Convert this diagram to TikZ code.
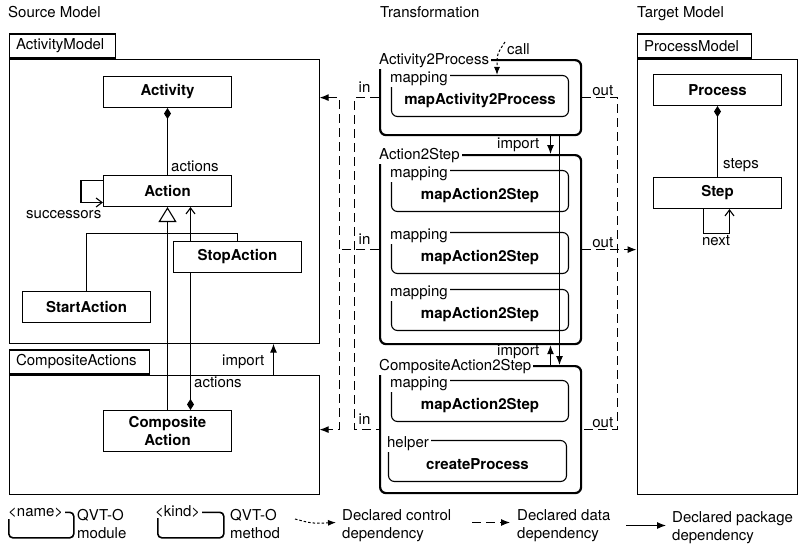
\documentclass[tikz,border=0pt]{standalone}
\usepackage{fontspec}
\setmainfont{TeX Gyre Heros}
\usetikzlibrary{arrows.meta,calc}
\newcommand{\figfont}{\fontsize{15}{18}\selectfont}
\tikzset{
    diam/.tip={Diamond[length=11pt,width=7pt]},
    barb/.tip={Straight Barb[length=6pt,width=9pt]},
    head/.tip={Latex[length=9pt,width=7pt]},
    lbl/.style={anchor=base west, inner sep=0pt},
    cls/.style={draw, fill=white, line width=1.1pt, font=\figfont\bfseries, minimum width=128pt, minimum height=31pt, inner sep=0pt, align=center},
    pkg/.style={draw, line width=1.1pt, anchor=north west, inner sep=0pt},
    pkgtab/.style={draw, line width=1.1pt, anchor=south west, inner xsep=7pt, inner ysep=0pt, minimum height=24pt, align=left},
    module/.style={draw, line width=2.2pt, rounded corners=6pt, anchor=north west, inner sep=0pt, minimum width=201pt},
    method/.style={draw, line width=1.1pt, rounded corners=6pt, inner sep=0pt, minimum width=177pt, minimum height=41pt},
    mname/.style={anchor=base, inner sep=0pt, font=\figfont\bfseries},
    tag/.style={fill=white, inner xsep=2pt, inner ysep=1pt, anchor=base west},
    pkgdep/.style={line width=1.1pt, -head},
    datadep/.style={line width=1.1pt, dash pattern=on 9pt off 5pt},
    ctrldep/.style={line width=1pt, dash pattern=on 2.5pt off 2pt, -{Latex[length=8pt,width=6pt]}},
    assoc/.style={line width=1.1pt, -barb},
    comp/.style={line width=1.1pt, diam-}
}
\begin{document}
\begin{tikzpicture}[x=1pt,y=-1pt,font=\figfont]
        \useasboundingbox (0,0) rectangle (800,544);
        %Titles
            \node[lbl] (srctitle) at (8,17) {Source Model};
            \node[lbl] (trftitle) at (380,17) {Transformation};
            \node[lbl] (tgttitle) at (637,17) {Target Model};
        %Source model
        \node[pkg, minimum width=310pt, minimum height=284pt] (actmodel) at (8.5,58.5) {};
        \node[pkgtab, text width=92pt] (actmodeltab) at (actmodel.north west) {ActivityModel};
        \node[pkg, minimum width=310pt, minimum height=119pt] (compactions) at (8.5,374.5) {};
        \node[pkgtab, text width=126pt] (compactionstab) at (compactions.north west) {CompositeActions};
        \node[cls] (activity) at (167.5,92) {Activity};
        \node[cls] (action) at (167.5,191) {Action};
        \node[cls] (startaction) at (86.5,307) {StartAction};
        \node[cls, minimum height=41pt] (compaction) at (167.5,431) {Composite\\Action};
        \draw[comp] (activity.south) -- (action.north);
        \node[lbl] (actionslbl) at (171,171.5) {actions};
        \draw[assoc] ($(action.west)+(0,-10.5)$) -- ++(-22,0) -- ++(0,22) -- ($(action.west)+(0,11.5)$);
        \node[lbl] (succlbl) at (26,218) {successors};
        \coordinate (genjoin) at ($(action.south)+(0,26)$);
        \draw[line width=1.1pt, -{Triangle[open,length=15pt,width=18pt]}] (compaction.north) -- (action.south);
        \draw[line width=1.1pt, diam-barb] ($(compaction.north)+(23,0)$) -- ($(action.south)+(23,0)$);
        \node[cls] (stopaction) at (237.5,257) {StopAction};
        \draw[line width=1.1pt] (startaction.north) |- (genjoin) -| (stopaction.north);
        \node[lbl] (compactionslbl) at (194,387.5) {actions};
        \coordinate (imps) at (273.5,0);
        \draw[pkgdep] (imps |- compactions.north) -- (imps |- actmodel.south);
        \node[lbl] (impslbl) at (222,365) {import};
        %Target model
        \node[pkg, minimum width=160pt, minimum height=435pt] (procmodel) at (636.5,58.5) {};
        \node[pkgtab, text width=100pt] (procmodeltab) at (procmodel.north west) {ProcessModel};
        \node[cls] (process) at (717.5,90) {Process};
        \node[cls] (step) at (717.5,193) {Step};
        \draw[comp] (process.south) -- (step.north);
        \node[lbl] (stepslbl) at (723,168.5) {steps};
        \draw[assoc] ($(step.south)+(-14,0)$) -- ++(0,24) -- ++(26,0) -- ($(step.south)+(12,0)$);
        \node[anchor=base, inner sep=0pt] (nextlbl) at (716,245) {next};
        %Transformation
        \node[module, minimum height=75pt] (a2p) at (379,59) {};
        \node[module, minimum height=189pt] (a2s) at (379,154) {};
        \node[module, minimum height=127pt] (ca2s) at (379,365) {};
        \node[method] (m1) at (480,96) {};
        \node[method] (m2) at (480,191) {};
        \node[method] (m3) at (480,253) {};
        \node[method] (m4) at (480,310) {};
        \node[method] (m5) at (480,401) {};
        \node[method, minimum width=178pt] (h1) at (477.5,461) {};
        \foreach \m/\k in {a2p/Activity2Process, a2s/Action2Step, ca2s/CompositeAction2Step}
        {\node[tag] (\m-tag) at ($(\m.north west)+(-2,5.3)$) {\k};}
        \foreach \m/\k/\t in {m1/mapping/mapActivity2Process, m2/mapping/mapAction2Step, m3/mapping/mapAction2Step,
        m4/mapping/mapAction2Step, m5/mapping/mapAction2Step, h1/helper/createProcess}
        {\node[tag] (\m-tag) at ($(\m.north west)+(-3,7.5)$) {\k};
         \node[mname] (\m-txt) at ($(\m.north)+(0,30)$) {\t};}
        \coordinate (callsrc) at (505,42);
        \draw[ctrldep] (callsrc) .. controls (497,54) .. ($(m1.north)+(17,0)$);
        \node[lbl] (calllbl) at (507,54) {call};
        %Imports
        \coordinate (impa) at (550.5,0);
        \coordinate (impb) at (559.5,0);
        \draw[pkgdep] (impa |- a2p.south) -- (impa |- a2s.north);
        \draw[pkgdep] (impa |- ca2s.north) -- (impa |- a2s.south);
        \draw[pkgdep] (impb |- a2p.south) -- (impb |- ca2s.north);
        \node[lbl] (impalbl) at (497,148) {import};
        \node[lbl] (impblbl) at (497,355) {import};
        %Data in/out
        \coordinate (inbus) at (354.5,0);
        \coordinate (srcbus) at (339.5,0);
        \coordinate (outbus) at (617.5,0);
        \draw[datadep] (a2p.west) -| (inbus |- ca2s.west) -- (ca2s.west);
        \draw[datadep] (a2s.west) -- (srcbus |- a2s.west);
        \draw[datadep, head-head] (actmodel.east |- a2p.west) -| (srcbus |- ca2s.west) -- (compactions.east |- ca2s.west);
        \draw[datadep] (a2p.east) -| (outbus |- ca2s.east) -- (ca2s.east);
        \draw[datadep, -head] (a2s.east) -- (procmodel.west |- a2s.east);
        \foreach \m in {a2p, a2s, ca2s}{
        \node[lbl] (\m-in) at ($(inbus |- \m.west)+(4,-5)$) {in};
        \node[lbl] (\m-out) at ($(\m.east)+(10,-2.5)$) {out};}
        %Legend
        \node[draw, line width=1.6pt, rounded corners=4pt, anchor=north west, minimum width=65pt, minimum height=25.5pt] (lgmodule) at (8,511.5) {};
        \node[tag] (lgmoduletag) at ($(lgmodule.north west)+(-2,5)$) {<name>};
        \node[anchor=north west, align=left, inner sep=0pt] (lgmoduletxt) at (77,509.2) {QVT-O\\module};
        \node[draw, line width=1.6pt, rounded corners=4pt, anchor=north west, minimum width=66pt, minimum height=25.5pt] (lgmethod) at (157,511.5) {};
        \node[tag] (lgmethodtag) at ($(lgmethod.north west)+(-4,4.5)$) {<kind>};
        \node[anchor=north west, align=left, inner sep=0pt] (lgmethodtxt) at (230,509.2) {QVT-O\\method};
        \coordinate (lgctrla) at (295,519);
        \coordinate (lgctrlb) at (336,522.5);
        \draw[ctrldep] (lgctrla) .. controls (312,523.5) .. (lgctrlb);
        \node[anchor=north west, align=left, inner sep=0pt] (lgctrltxt) at (342,509.2) {Declared control\\dependency};
        \coordinate (lgdataa) at (472,522.5);
        \coordinate (lgdatab) at (510,522.5);
        \draw[datadep, -head] (lgdataa) -- (lgdatab);
        \node[anchor=north west, align=left, inner sep=0pt] (lgdatatxt) at (517,509.2) {Declared data\\dependency};
        \coordinate (lgpkga) at (626,525.5);
        \coordinate (lgpkgb) at (666,525.5);
        \draw[pkgdep] (lgpkga) -- (lgpkgb);
        \node[anchor=north west, align=left, inner sep=0pt] (lgpkgtxt) at (672,511.7) {Declared package\\dependency};
        \end{tikzpicture}
\end{document}
